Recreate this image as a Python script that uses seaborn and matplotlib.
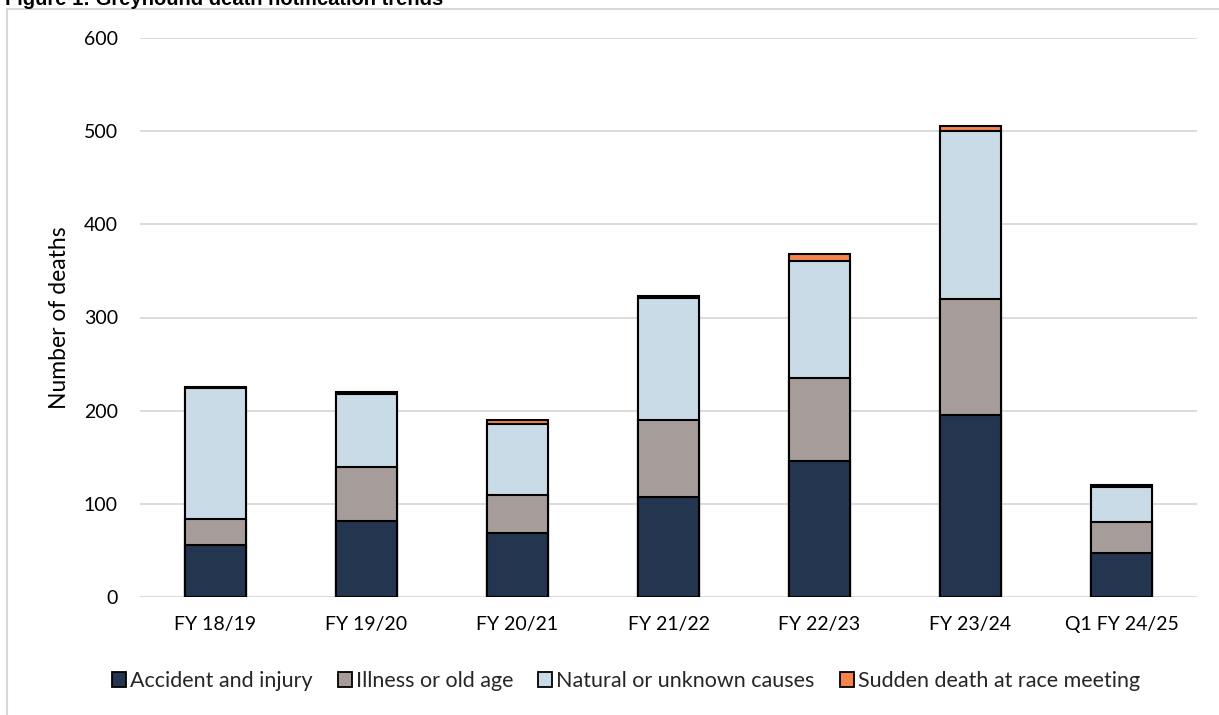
import numpy as np
import pandas as pd
import seaborn as sns
import matplotlib
matplotlib.use("Agg")
import matplotlib.pyplot as plt
from matplotlib.patches import Patch, Rectangle

# Greyhound death notifications by cause, per financial year
years = ["FY 18/19", "FY 19/20", "FY 20/21", "FY 21/22", "FY 22/23", "FY 23/24", "Q1 FY 24/25"]
accident = [56, 82, 69, 107, 146, 195, 47]
illness = [28, 58, 41, 83, 89, 125, 33]
natural = [140, 78, 76, 131, 126, 180, 38]
sudden = [1, 2, 4, 2, 7, 6, 2]

causes = ["Accident and injury", "Illness or old age",
          "Natural or unknown causes", "Sudden death at race meeting"]
colors = ["#24354F", "#A69C99", "#C9DBE6", "#F4834C"]

df = pd.DataFrame({"year": years,
                   causes[0]: accident, causes[1]: illness,
                   causes[2]: natural, causes[3]: sudden})

sns.set_theme(style="white")
plt.rcParams["font.family"] = ["Lato", "DejaVu Sans"]

W, H = 1219, 715
fig = plt.figure(figsize=(W / 100, H / 100), dpi=100)
ax = fig.add_axes([140 / W, 1 - 597 / H, (1197 - 140) / W, (597 - 38) / H])

# Stacked bars: draw cumulative totals from the top layer down
cum = df[causes].cumsum(axis=1)
for cause, col in reversed(list(zip(causes, colors))):
    sns.barplot(x=df["year"], y=cum[cause], order=years, color=col,
                saturation=1, width=0.4, edgecolor="black", linewidth=1.5,
                ax=ax, zorder=3)

ax.set_ylim(0, 600)
ax.set_xlim(-0.5, len(years) - 0.5)
ax.set_yticks(range(0, 601, 100))
ax.yaxis.grid(True, color="#D9D9D9", linewidth=1.3, zorder=0)
ax.xaxis.grid(False)
ax.set_axisbelow(True)
for s in ax.spines.values():
    s.set_visible(False)

ax.tick_params(axis="y", length=0, pad=16, labelsize=14, labelcolor="#000000")
ax.tick_params(axis="x", length=0, pad=14, labelsize=14, labelcolor="#000000")
ax.set_xlabel("")
ax.set_ylabel("Number of deaths", fontsize=16.5, color="#000000", labelpad=10)

handles = [Patch(facecolor=c, edgecolor="black", linewidth=1.3) for c in colors]
fig.legend(handles, causes, loc="center", bbox_to_anchor=(626 / W, 1 - 681 / H),
           ncol=4, frameon=False, fontsize=15.5, handlelength=0.65, handleheight=0.65,
           handletextpad=0.2, columnspacing=1.15, borderaxespad=0)

# Outer chart frame (only left and top edges fall inside the canvas)
fig.patches.append(Rectangle((7 / W, -0.2), 1.2, 1.2 - 9 / H,
                             transform=fig.transFigure, fill=False,
                             edgecolor="#D9D9D9", linewidth=1.5, zorder=0))

fig.text(5 / W, 1 - 5 / H, "Figure 1: Greyhound death notification trends",
         fontsize=14.5, fontweight="bold", family=["Liberation Sans", "DejaVu Sans"],
         va="baseline", ha="left", color="#000000")

fig.savefig("out.png", dpi=100, facecolor="white")
